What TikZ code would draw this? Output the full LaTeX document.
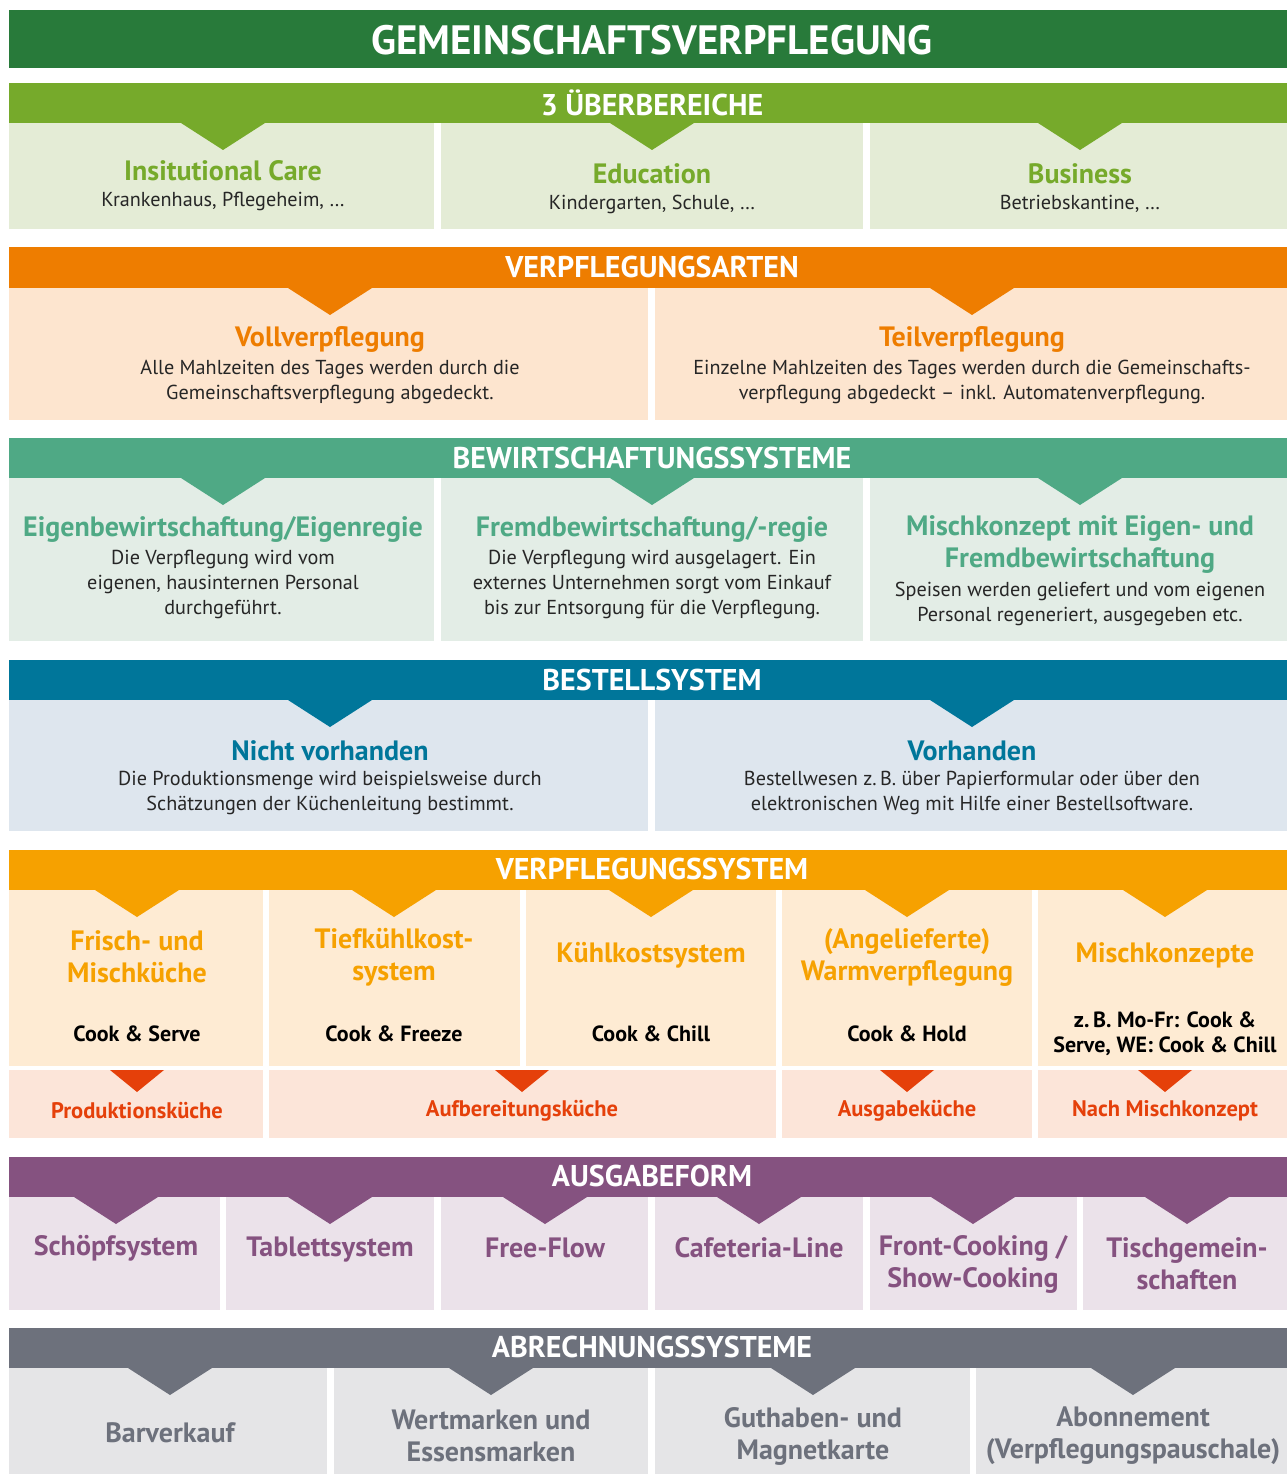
\documentclass[tikz,border=0pt]{standalone}
\usepackage{fontspec}
\setmainfont{PT Sans}
\usepackage{tikz}
\usetikzlibrary{positioning}

\definecolor{mainGreen}{HTML}{287A3A}
\definecolor{areaGreen}{HTML}{76AA2B}
\definecolor{areaLight}{HTML}{E4ECD6}
\definecolor{artOrange}{HTML}{EE7D00}
\definecolor{artLight}{HTML}{FDE5CF}
\definecolor{wirtGreen}{HTML}{4FA985}
\definecolor{wirtLight}{HTML}{E3EDE6}
\definecolor{bestBlue}{HTML}{00769A}
\definecolor{bestLight}{HTML}{DEE6EE}
\definecolor{sysOrange}{HTML}{F6A100}
\definecolor{sysLight}{HTML}{FEEBD3}
\definecolor{kitchLight}{HTML}{FCE5D9}
\definecolor{kitchRed}{HTML}{E5400A}
\definecolor{ausPurple}{HTML}{855280}
\definecolor{ausLight}{HTML}{EBE2EA}
\definecolor{abrGray}{HTML}{6D717C}
\definecolor{abrLight}{HTML}{E5E5E7}

% downward notch below a bar: centre x, top y, colour
\newcommand{\notch}[3]{\fill[#3] (#1-42,#2) -- (#1+42,#2) -- (#1,#2+27) -- cycle;}
\newcommand{\smallnotch}[3]{\fill[#3] (#1-27,#2) -- (#1+27,#2) -- (#1,#2+22) -- cycle;}

\begin{document}
\begin{tikzpicture}[x=1pt, y=-1pt]
	% Define styles
	\tikzset{
		maintxt/.style={text=white, font=\fontsize{41}{44}\selectfont\bfseries, inner sep=0pt},
		headtxt/.style={text=white, font=\fontsize{30}{32}\selectfont\bfseries, inner sep=0pt},
		ttl/.style={font=\fontsize{28}{32}\selectfont\bfseries, align=center, inner sep=0pt},
		body/.style={font=\fontsize{20.2}{25}\selectfont, align=center, inner sep=0pt, text=black!85, yshift=-2pt},
		cook/.style={font=\fontsize{22}{25}\selectfont\bfseries, align=center, inner sep=0pt},
		kitch/.style={font=\fontsize{22.5}{25}\selectfont\bfseries, text=kitchRed, inner sep=0pt}
	}
	\useasboundingbox (0,0) rectangle (1287,1474);
	\fill[white] (0,0) rectangle (1287,1474);

	% Title
	\fill[mainGreen] (9,10) rectangle (1287,68);
	\node[maintxt] (title) at (652,40) {GEMEINSCHAFTSVERPFLEGUNG};

	% 3 Ueberbereiche
	\fill[areaGreen] (9,83) rectangle (1287,123);
	\node[headtxt] (areas) at (652,103) {3 ÜBERBEREICHE};
	\fill[areaLight] (9,123) rectangle (434,229);
	\fill[areaLight] (441,123) rectangle (863,229);
	\fill[areaLight] (870,123) rectangle (1287,229);
	\notch{223}{123}{areaGreen}
	\notch{652}{123}{areaGreen}
	\notch{1080}{123}{areaGreen}
	\node[ttl, text=areaGreen] (care) at (223,171) {Insitutional Care};
	\node[body] (careTxt) at (223,199) {Krankenhaus, Pflegeheim, \dots};
	\node[ttl, text=areaGreen] (edu) at (652,174) {Education};
	\node[body] (eduTxt) at (652,202) {Kindergarten, Schule, \dots};
	\node[ttl, text=areaGreen] (biz) at (1080,174) {Business};
	\node[body] (bizTxt) at (1080,202) {Betriebskantine, \dots};

	% Verpflegungsarten
	\fill[artOrange] (9,247) rectangle (1287,288);
	\node[headtxt] (arten) at (652,267) {VERPFLEGUNGSARTEN};
	\fill[artLight] (9,288) rectangle (648,420);
	\fill[artLight] (655,288) rectangle (1287,420);
	\notch{330}{288}{artOrange}
	\notch{972}{288}{artOrange}
	\node[ttl, text=artOrange] (voll) at (330,339) {Vollverpflegung};
	\node[body] (vollTxt) at (330,380) {Alle Mahlzeiten des Tages werden durch die\\Gemeinschaftsverpflegung abgedeckt.};
	\node[ttl, text=artOrange] (teil) at (972,339) {Teilverpflegung};
	\node[body] (teilTxt) at (972,380) {Einzelne Mahlzeiten des Tages werden durch die Gemeinschafts-\\verpflegung abgedeckt -- inkl. Automatenverpflegung.};

	% Bewirtschaftungssysteme
	\fill[wirtGreen] (9,438) rectangle (1287,478);
	\node[headtxt] (wirt) at (652,458) {BEWIRTSCHAFTUNGSSYSTEME};
	\fill[wirtLight] (9,478) rectangle (434,641);
	\fill[wirtLight] (441,478) rectangle (863,641);
	\fill[wirtLight] (870,478) rectangle (1287,641);
	\notch{223}{478}{wirtGreen}
	\notch{652}{478}{wirtGreen}
	\notch{1080}{478}{wirtGreen}
	\node[ttl, text=wirtGreen] (eigen) at (223,529) {Eigenbewirtschaftung/Eigenregie};
	\node[body] (eigenTxt) at (223,582) {Die Verpflegung wird vom\\eigenen, hausinternen Personal\\durchgeführt.};
	\node[ttl, text=wirtGreen] (fremd) at (652,529) {Fremdbewirtschaftung/-regie};
	\node[body] (fremdTxt) at (652,582) {Die Verpflegung wird ausgelagert. Ein\\externes Unternehmen sorgt vom Einkauf\\bis zur Entsorgung für die Verpflegung.};
	\node[ttl, text=wirtGreen] (misch) at (1080,545) {Mischkonzept mit Eigen- und\\Fremdbewirtschaftung};
	\node[body] (mischTxt) at (1080,602) {Speisen werden geliefert und vom eigenen\\Personal regeneriert, ausgegeben etc.};

	% Bestellsystem
	\fill[bestBlue] (9,660) rectangle (1287,700);
	\node[headtxt] (best) at (652,680) {BESTELLSYSTEM};
	\fill[bestLight] (9,700) rectangle (648,831);
	\fill[bestLight] (655,700) rectangle (1287,831);
	\notch{330}{700}{bestBlue}
	\notch{972}{700}{bestBlue}
	\node[ttl, text=bestBlue] (nicht) at (330,751) {Nicht vorhanden};
	\node[body] (nichtTxt) at (330,791) {Die Produktionsmenge wird beispielsweise durch\\Schätzungen der Küchenleitung bestimmt.};
	\node[ttl, text=bestBlue] (vorh) at (972,751) {Vorhanden};
	\node[body] (vorhTxt) at (972,791) {Bestellwesen z.\,B. über Papierformular oder über den\\elektronischen Weg mit Hilfe einer Bestellsoftware.};

	% Verpflegungssystem
	\fill[sysOrange] (9,850) rectangle (1287,890);
	\node[headtxt] (sys) at (652,869) {VERPFLEGUNGSSYSTEM};
	\fill[sysLight] (9,890) rectangle (263,1066);
	\fill[sysLight] (269,890) rectangle (520,1066);
	\fill[sysLight] (526,890) rectangle (776,1066);
	\fill[sysLight] (782,890) rectangle (1032,1066);
	\fill[sysLight] (1038,890) rectangle (1287,1066);
	\notch{137}{890}{sysOrange}
	\notch{394}{890}{sysOrange}
	\notch{651}{890}{sysOrange}
	\notch{907}{890}{sysOrange}
	\notch{1165}{890}{sysOrange}
	\node[ttl, text=sysOrange] (frisch) at (137,957) {Frisch- und\\Mischküche};
	\node[ttl, text=sysOrange] (tief) at (394,957) {Tiefkühlkost-\\system};
	\node[ttl, text=sysOrange] (kuehl) at (651,955) {Kühlkostsystem};
	\node[ttl, text=sysOrange] (warm) at (907,957) {(Angelieferte)\\Warmverpflegung};
	\node[ttl, text=sysOrange] (mischk) at (1165,955) {Mischkonzepte};
	\node[cook] (serve) at (137,1034) {Cook \& Serve};
	\node[cook] (freeze) at (394,1034) {Cook \& Freeze};
	\node[cook] (chill) at (651,1034) {Cook \& Chill};
	\node[cook] (hold) at (907,1034) {Cook \& Hold};
	\node[cook] (mixed) at (1165,1034) {z.\,B. Mo-Fr: Cook \&\\Serve, WE: Cook \& Chill};
	\fill[kitchLight] (9,1070) rectangle (263,1138);
	\fill[kitchLight] (269,1070) rectangle (776,1138);
	\fill[kitchLight] (782,1070) rectangle (1032,1138);
	\fill[kitchLight] (1038,1070) rectangle (1287,1138);
	\smallnotch{137}{1070}{kitchRed}
	\smallnotch{522}{1070}{kitchRed}
	\smallnotch{907}{1070}{kitchRed}
	\smallnotch{1165}{1070}{kitchRed}
	\node[kitch] (prod) at (137,1111) {Produktionsküche};
	\node[kitch] (aufb) at (522,1111) {Aufbereitungsküche};
	\node[kitch] (ausg) at (907,1111) {Ausgabeküche};
	\node[kitch] (nach) at (1165,1111) {Nach Mischkonzept};

	% Ausgabeform
	\fill[ausPurple] (9,1157) rectangle (1287,1197);
	\node[headtxt] (ausf) at (652,1176) {AUSGABEFORM};
	\fill[ausLight] (9,1197) rectangle (220,1310);
	\fill[ausLight] (226,1197) rectangle (434,1310);
	\fill[ausLight] (441,1197) rectangle (648,1310);
	\fill[ausLight] (655,1197) rectangle (863,1310);
	\fill[ausLight] (870,1197) rectangle (1077,1310);
	\fill[ausLight] (1083,1197) rectangle (1287,1310);
	\notch{116}{1197}{ausPurple}
	\notch{330}{1197}{ausPurple}
	\notch{545}{1197}{ausPurple}
	\notch{759}{1197}{ausPurple}
	\notch{973}{1197}{ausPurple}
	\notch{1187}{1197}{ausPurple}
	\node[ttl, text=ausPurple] (schoepf) at (116,1248) {Schöpfsystem};
	\node[ttl, text=ausPurple] (tablett) at (330,1250) {Tablettsystem};
	\node[ttl, text=ausPurple] (free) at (545,1248) {Free-Flow};
	\node[ttl, text=ausPurple] (cafe) at (759,1248) {Cafeteria-Line};
	\node[ttl, text=ausPurple] (front) at (973,1264) {Front-Cooking /\\Show-Cooking};
	\node[ttl, text=ausPurple] (tisch) at (1187,1264) {Tischgemein-\\schaften};

	% Abrechnungssysteme
	\fill[abrGray] (9,1328) rectangle (1287,1368);
	\node[headtxt] (abr) at (652,1347) {ABRECHNUNGSSYSTEME};
	\fill[abrLight] (9,1368) rectangle (327,1474);
	\fill[abrLight] (334,1368) rectangle (648,1474);
	\fill[abrLight] (655,1368) rectangle (970,1474);
	\fill[abrLight] (976,1368) rectangle (1287,1474);
	\notch{170}{1368}{abrGray}
	\notch{491}{1368}{abrGray}
	\notch{813}{1368}{abrGray}
	\notch{1133}{1368}{abrGray}
	\node[ttl, text=abrGray] (bar) at (170,1433) {Barverkauf};
	\node[ttl, text=abrGray] (wert) at (491,1436) {Wertmarken und\\Essensmarken};
	\node[ttl, text=abrGray] (guth) at (813,1436) {Guthaben- und\\Magnetkarte};
	\node[ttl, text=abrGray] (abo) at (1133,1436) {Abonnement\\(Verpflegungspauschale)};
\end{tikzpicture}
\end{document}
